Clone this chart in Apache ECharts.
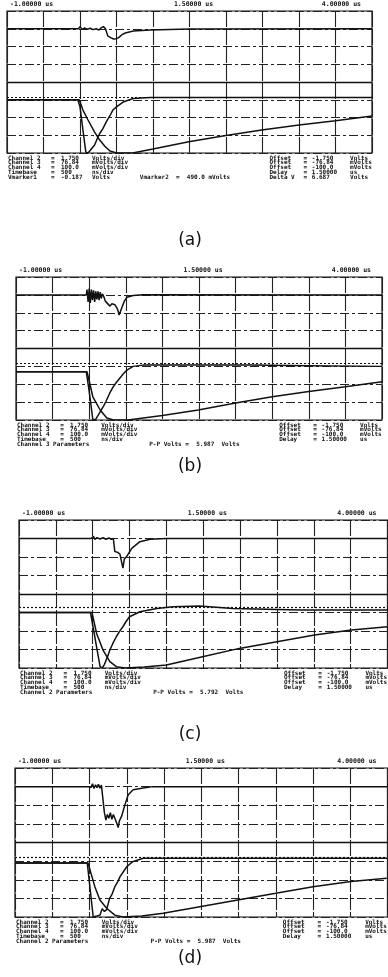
<!DOCTYPE html>
<html>
<head>
<meta charset="utf-8">
<script src="https://cdn.jsdelivr.net/npm/echarts@6/dist/echarts.min.js"></script>
<style>
  html, body { margin: 0; padding: 0; background: #fff; }
  #scope { width: 388px; height: 977px; }
</style>
</head>
<body>
<div id="scope"></div>
<script>
// time axis (us) and labels printed above each screen
const timeTicks = [-1, 1.5, 4];
const timeLabels = ['-1.00000 us', '1.50000 us', '4.00000 us'];
const panelNames = ['(a)', '(b)', '(c)', '(d)'];

// traces, [time us, divisions from bottom]
const topA = [[-1, 7.0], [-0.02, 7.0], [0.0, 7.12], [0.03, 6.96], [0.06, 7.04], [0.1, 6.97], [0.14, 7.03], [0.18, 6.95], [0.22, 7.0], [0.26, 6.93], [0.29, 7.05], [0.32, 7.12], [0.35, 7.0], [0.38, 6.6], [0.42, 6.5], [0.46, 6.42], [0.5, 6.44], [0.53, 6.5], [0.57, 6.65], [0.62, 6.76], [0.73, 6.87], [0.96, 6.93], [1.5, 6.98], [4, 7.0]];
const fastA = [[-1, 3.0], [-0.03, 3.0], [0.0, 2.6], [0.04, 1.3], [0.08, 0.05], [0.11, 0.0], [0.15, 0.2], [0.2, 0.45], [0.24, 0.85], [0.27, 1.1], [0.29, 1.05], [0.31, 1.35], [0.33, 1.3], [0.36, 1.75], [0.38, 1.7], [0.41, 2.1], [0.45, 2.42], [0.5, 2.6], [0.59, 2.87], [0.73, 3.07], [0.96, 3.13], [2, 3.13], [4, 3.12]];
const slowA = [[-1, 3.0], [-0.01, 3.0], [0.04, 2.42], [0.11, 1.86], [0.2, 1.18], [0.27, 0.73], [0.34, 0.38], [0.41, 0.11], [0.5, 0.0], [0.72, 0.0], [1.0, 0.22], [1.49, 0.63], [2.0, 0.98], [2.49, 1.3], [3.0, 1.58], [3.5, 1.82], [4.0, 2.08]];

const topB = [[-1, 7.0], [-0.04, 7.0], [-0.03, 7.3], [-0.015, 6.6], [0.0, 7.35], [0.015, 6.55], [0.03, 7.3], [0.045, 6.7], [0.06, 7.25], [0.075, 6.6], [0.09, 7.2], [0.105, 6.75], [0.12, 7.2], [0.135, 6.7], [0.15, 7.15], [0.165, 6.8], [0.18, 7.05], [0.2, 6.9], [0.22, 6.65], [0.243, 6.54], [0.284, 6.37], [0.31, 6.5], [0.325, 6.59], [0.35, 6.45], [0.38, 6.26], [0.395, 6.1], [0.407, 5.87], [0.425, 6.05], [0.448, 6.31], [0.48, 6.65], [0.516, 6.87], [0.6, 6.96], [0.735, 7.01], [4, 7.0]];
const fastB = [[-1, 2.7], [-0.04, 2.7], [0.0, 1.6], [0.05, 0.0], [0.09, 0.05], [0.15, 0.46], [0.2, 0.8], [0.23, 1.05], [0.25, 1.0], [0.28, 1.5], [0.3, 1.45], [0.325, 1.84], [0.35, 1.8], [0.37, 2.1], [0.42, 2.35], [0.47, 2.6], [0.516, 2.79], [0.6, 3.0], [0.735, 3.07], [1.5, 3.07], [2.2, 3.07], [3, 3.04], [4, 3.0]];
const slowB = [[-1, 2.7], [-0.03, 2.7], [0.05, 1.3], [0.15, 0.56], [0.24, 0.11], [0.33, 0.0], [0.53, 0.0], [1.0, 0.25], [1.49, 0.56], [2.0, 0.95], [2.5, 1.3], [3.0, 1.6], [3.5, 1.86], [4.0, 2.14]];

const topC = [[-1, 7.0], [-0.02, 7.0], [0.0, 6.9], [0.01, 7.12], [0.03, 6.95], [0.06, 7.05], [0.1, 6.97], [0.14, 7.04], [0.18, 6.96], [0.22, 7.03], [0.25, 6.95], [0.28, 7.0], [0.3, 6.3], [0.34, 6.25], [0.37, 6.15], [0.39, 6.1], [0.41, 5.4], [0.43, 5.9], [0.46, 6.02], [0.53, 6.47], [0.64, 6.83], [0.78, 6.96], [1.0, 7.0], [4, 7.0]];
const fastC = [[-1, 3.0], [-0.03, 3.0], [0.1, 0.07], [0.13, 0.0], [0.16, 0.2], [0.2, 0.6], [0.233, 0.97], [0.25, 0.95], [0.27, 1.3], [0.29, 1.28], [0.32, 1.69], [0.36, 1.95], [0.41, 2.23], [0.45, 2.5], [0.5, 2.77], [0.64, 3.04], [0.87, 3.22], [1.09, 3.31], [1.45, 3.35], [1.9, 3.22], [2.81, 3.13], [4, 3.13]];
const slowC = [[-1, 3.0], [-0.01, 3.0], [0.053, 1.87], [0.14, 0.97], [0.233, 0.34], [0.32, 0.07], [0.44, 0.0], [0.7, 0.05], [1.0, 0.16], [1.49, 0.61], [1.99, 1.06], [2.5, 1.42], [3.01, 1.78], [3.51, 2.05], [4.0, 2.23]];

const topD = [[-1, 7.0], [-0.02, 7.0], [0.0, 7.1], [0.02, 6.95], [0.04, 7.15], [0.06, 6.9], [0.08, 7.1], [0.1, 6.95], [0.12, 7.12], [0.14, 6.92], [0.16, 7.08], [0.184, 7.0], [0.2, 5.6], [0.22, 5.2], [0.24, 5.5], [0.26, 5.3], [0.28, 5.6], [0.3, 5.25], [0.32, 5.5], [0.34, 5.3], [0.36, 5.1], [0.385, 4.8], [0.4, 5.15], [0.43, 5.4], [0.475, 6.02], [0.52, 6.56], [0.586, 6.83], [0.72, 6.93], [0.85, 7.0], [4, 7.0]];
const fastD = [[-1, 2.9], [-0.03, 2.9], [0.05, 0.0], [0.1, 0.05], [0.14, 0.1], [0.17, 0.45], [0.2, 0.3], [0.23, 0.4], [0.27, 1.0], [0.3, 1.2], [0.34, 1.63], [0.38, 1.9], [0.41, 2.17], [0.5, 2.7], [0.58, 2.97], [0.72, 3.15], [4, 3.15]];
const slowD = [[-1, 2.9], [-0.02, 2.9], [0.072, 1.63], [0.14, 0.91], [0.23, 0.47], [0.34, 0.1], [0.45, 0.0], [0.7, 0.05], [0.99, 0.2], [1.48, 0.55], [1.99, 0.91], [2.5, 1.27], [3.0, 1.63], [3.51, 1.9], [3.99, 2.08]];

// dotted cursor level per screen (divisions)
const markerLevels = [3.15, 3.18, 3.31, 3.21];

// readout text under each screen
const setupRows = [
    ['Channel 2', '=', '1.750', 'Volts/div'],
    ['Channel 3', '=', '76.84', 'mVolts/div'],
    ['Channel 4', '=', '100.0', 'mVolts/div'],
    ['Timebase', '=', '500', 'ns/div'],
];
const offsetRows = [
    ['Offset', '=', '-1.750', 'Volts'],
    ['Offset', '=', '-76.84', 'mVolts'],
    ['Offset', '=', '-100.0', 'mVolts'],
    ['Delay', '=', '1.50000', 'us'],
];
const extraLeft = [['Vmarker1', '=', '-0.187', 'Volts'], ['Channel 3 Parameters'], ['Channel 2 Parameters'], ['Channel 2 Parameters']];
const extraMid = ['Vmarker2  =  490.0 mVolts', 'P-P Volts =  5.987  Volts', 'P-P Volts =  5.792  Volts', 'P-P Volts =  5.987  Volts'];
const extraRight = [['Delta V', '=', '6.687', 'Volts'], null, null, null];

const traces = [[topA, fastA, slowA], [topB, fastB, slowB], [topC, fastC, slowC], [topD, fastD, slowD]];

// screen rectangles: left, top, width, height
const rects = [[7, 11, 365, 142], [16, 277, 366, 143], [19, 520, 368.5, 148], [15, 768, 372.5, 149]];
const nameY = [241, 467, 735, 959];

const chart = echarts.init(document.getElementById('scope'));
const ink = '#111';

const grids = [], xAxes = [], yAxes = [], series = [];
rects.forEach((r, i) => {
    grids.push({ left: r[0], top: r[1], width: r[2], height: r[3], show: true, borderColor: ink, borderWidth: 1.2 });
    xAxes.push({
        type: 'value', gridIndex: i, min: -1, max: 4, interval: 0.5,
        axisLine: { show: false }, axisTick: { show: false }, axisLabel: { show: false },
        splitLine: { show: true, lineStyle: { color: '#222', width: 1.1, type: [16, 2] } },
    });
    yAxes.push({
        type: 'value', gridIndex: i, min: 0, max: 8, interval: 1,
        axisLine: { show: false }, axisTick: { show: false }, axisLabel: { show: false },
        splitLine: { show: true, lineStyle: { color: '#222', width: 1, type: [9, 3, 3, 3] } },
    });
    traces[i].forEach((d, k) => {
        const s = {
            type: 'line', xAxisIndex: i, yAxisIndex: i, data: d,
            showSymbol: false, silent: true, animation: false,
            lineStyle: { color: ink, width: 1.5 },
        };
        if (k === 0) {
            s.markLine = {
                symbol: 'none', silent: true, animation: false, label: { show: false },
                data: [
                    { yAxis: 4, lineStyle: { color: ink, width: 1.3, type: 'solid' } },
                    { yAxis: markerLevels[i], lineStyle: { color: ink, width: 1.2, type: [2, 2] } },
                ],
            };
        }
        series.push(s);
    });
});

chart.setOption({
    backgroundColor: '#fff',
    animation: false,
    grid: grids,
    xAxis: xAxes,
    yAxis: yAxes,
    series: series,
});

// header labels and readouts, placed from the axis scales
const small = 'bold 6px "DejaVu Sans Mono"';
const head = 'bold 6.5px "DejaVu Sans Mono"';
const graphic = [];
function txt(x, y, text, font, align) {
    graphic.push({
        type: 'text', x: x, y: y, silent: true,
        style: { text: text, font: font, fill: ink, textAlign: align || 'left', textVerticalAlign: 'middle' },
    });
}
const colL = [0, 0.118, 0.145, 0.23];
const colR = [0.719, 0.812, 0.835, 0.94];
rects.forEach((r, i) => {
    const hy = r[1] - 7;
    timeTicks.forEach((t, j) => {
        const px = chart.convertToPixel({ xAxisIndex: i }, t);
        if (j === 0) txt(px + 3, hy, timeLabels[j], head, 'left');
        else if (j === timeTicks.length - 1) txt(px - 11, hy, timeLabels[j], head, 'right');
        else txt(px + 4, hy, timeLabels[j], head, 'center');
    });
    const bottom = r[1] + r[3];
    const rowY = n => bottom + 5 + n * 4.8;
    const left = r[0] + 1;
    setupRows.forEach((row, n) => row.forEach((c, m) => txt(left + colL[m] * r[2], rowY(n), c, small)));
    offsetRows.forEach((row, n) => row.forEach((c, m) => txt(r[0] + colR[m] * r[2], rowY(n), c, small)));
    extraLeft[i].forEach((c, m) => txt(left + colL[m] * r[2], rowY(4), c, small));
    txt(r[0] + 0.364 * r[2], rowY(4), extraMid[i], small);
    if (extraRight[i]) extraRight[i].forEach((c, m) => txt(r[0] + colR[m] * r[2], rowY(4), c, small));
    txt(190, nameY[i], panelNames[i], '17px "DejaVu Sans"', 'center');
});

chart.setOption({ graphic: graphic });
</script>
</body>
</html>
